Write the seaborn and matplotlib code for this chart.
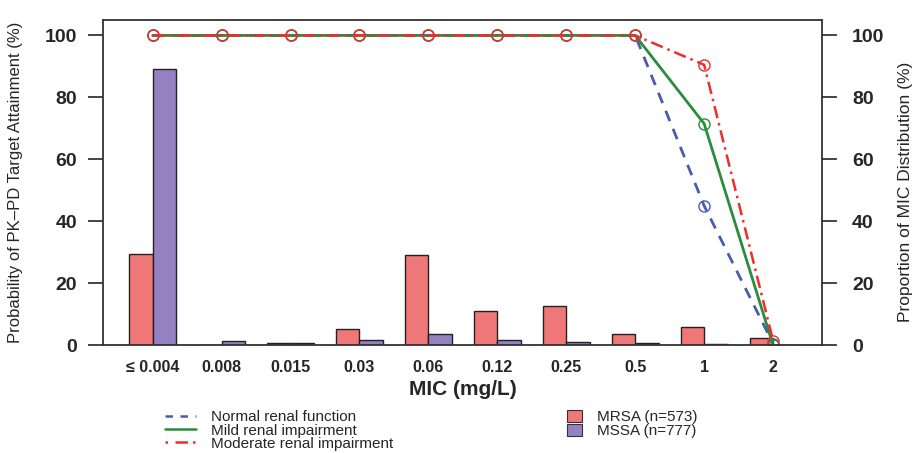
import numpy as np
import pandas as pd
import seaborn as sns
import matplotlib.pyplot as plt
from matplotlib.lines import Line2D
from matplotlib.patches import Patch

# MIC categories and distributions (%)
mic_labels = ['\u2264 0.004', '0.008', '0.015', '0.03', '0.06', '0.12', '0.25', '0.5', '1', '2']
mrsa_pct = [29.4, 0.2, 0.7, 5.2, 29.2, 11.0, 12.5, 3.7, 5.9, 2.4]
mssa_pct = [89.0, 1.2, 0.6, 1.7, 3.6, 1.8, 1.0, 0.6, 0.3, 0.1]

# probability of target attainment (%)
pta_normal = [100, 100, 100, 100, 100, 100, 100, 100, 45.0, 0.5]
pta_mild = [100, 100, 100, 100, 100, 100, 100, 100, 71.5, 0.0]
pta_moderate = [100, 100, 100, 100, 100, 100, 100, 100, 90.5, 1.5]

bar_colors = {'MRSA (n=573)': '#ef7777', 'MSSA (n=777)': '#9581c1'}
line_blue = '#4a5bb0'
line_green = '#2a8c3c'
line_red = '#ee2d2d'

sns.set_style('white')
plt.rcParams['font.family'] = ['Liberation Sans', 'DejaVu Sans']

df = pd.DataFrame({
    'mic': mic_labels * 2,
    'pct': mrsa_pct + mssa_pct,
    'group': ['MRSA (n=573)'] * len(mic_labels) + ['MSSA (n=777)'] * len(mic_labels),
})

fig = plt.figure(figsize=(9.15, 4.53), dpi=100)
ax = fig.add_axes([0.1126, 0.238, 0.7858, 0.718])

sns.barplot(data=df, x='mic', y='pct', hue='group', palette=bar_colors,
            width=0.68, edgecolor='#222222', linewidth=1.0, ax=ax, legend=False,
            saturation=1)

xpos = np.arange(len(mic_labels))
ax.plot(xpos, pta_normal, color=line_blue, ls=(0, (4, 3)), lw=2.0,
        marker='o', ms=8, mfc='none', mec=line_blue, mew=1.0)
ax.plot(xpos, pta_mild, color=line_green, ls='-', lw=2.0,
        marker='o', ms=8, mfc='none', mec=line_green, mew=1.0)
ax.plot(xpos, pta_moderate, color=line_red, ls=(0, (5, 2, 1, 2)), lw=1.8,
        marker='o', ms=8, mfc='none', mec=line_red, mew=1.0)

ax.set_xlim(-0.72, 9.71)
ax.set_ylim(0, 105)
ax.set_yticks([0, 20, 40, 60, 80, 100])
ax.tick_params(axis='y', direction='out', length=10.5, width=1.2, labelsize=14, pad=8)
ax.tick_params(axis='x', length=0, labelsize=11.5, pad=11)
for lab in ax.get_xticklabels() + ax.get_yticklabels():
    lab.set_fontweight('bold')
ax.set_xlabel('MIC (mg/L)', fontsize=15, fontweight='bold', labelpad=3)
ax.set_ylabel('Probability of PK\u2013PD Target Attainment (%)', fontsize=12)
ax.yaxis.set_label_coords(-0.112, 0.5)
for sp in ax.spines.values():
    sp.set_visible(True)
    sp.set_color('#333333')
    sp.set_linewidth(1.3)

ax2 = ax.twinx()
ax2.set_ylim(0, 105)
ax2.set_yticks([0, 20, 40, 60, 80, 100])
ax2.tick_params(axis='y', direction='out', length=10.5, width=1.2, labelsize=14, pad=11)
for lab in ax2.get_yticklabels():
    lab.set_fontweight('bold')
ax2.set_ylabel('Proportion of MIC Distribution (%)', fontsize=12.5)
ax2.yaxis.set_label_coords(1.106, 0.47)
for sp in ax2.spines.values():
    sp.set_visible(False)

line_handles = [
    Line2D([], [], color=line_blue, ls=(0, (3, 3)), lw=1.8),
    Line2D([], [], color=line_green, ls='-', lw=1.8),
    Line2D([], [], color=line_red, ls=(0, (1, 3, 5, 2)), lw=1.8),
]
fig.legend(line_handles, ['Normal renal function', 'Mild renal impairment', 'Moderate renal impairment'],
           loc='upper left', bbox_to_anchor=(0.172, 0.111), frameon=False, fontsize=11,
           handlelength=2.0, labelspacing=-0.05, handletextpad=1.0, borderpad=0)

bar_handles = [Patch(facecolor=c, edgecolor='#333333', lw=0.8) for c in bar_colors.values()]
fig.legend(bar_handles, list(bar_colors.keys()), loc='upper left',
           bbox_to_anchor=(0.611, 0.111), frameon=False, fontsize=11,
           handlelength=1.0, handleheight=0.75, labelspacing=0.0, handletextpad=1.0, borderpad=0)

fig.savefig('out.png', dpi=100)
